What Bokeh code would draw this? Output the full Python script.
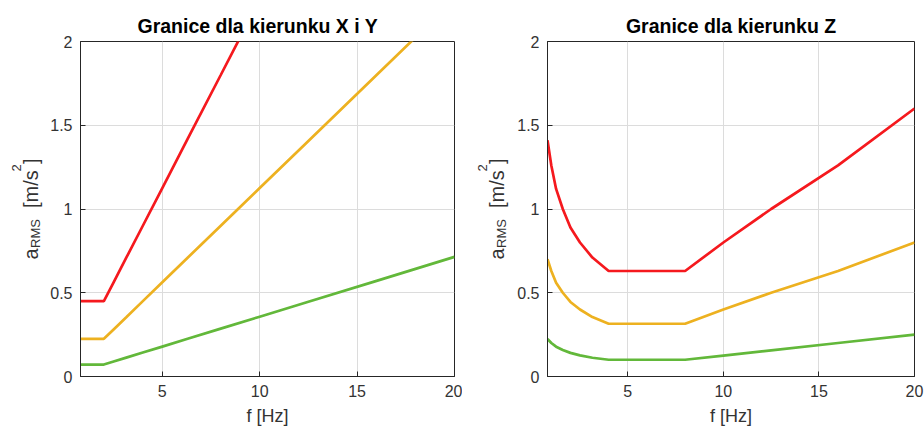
import math
from bokeh.plotting import figure
from bokeh.layouts import row
from bokeh.models import Range1d, FixedTicker
from bokeh.core.properties import value
from bokeh.embed import file_html
from bokeh.resources import INLINE

# 1/3-octave centre frequencies [Hz]
freq = [0.8, 1.0, 1.25, 1.6, 2.0, 2.5, 3.15, 4.0, 5.0, 6.3, 8.0, 10.0, 12.5, 16.0, 20.0]

# X and Y direction limits [m/s^2]
xy_green = [0.0714, 0.0714, 0.0714, 0.0714, 0.0714, 0.0893, 0.1125, 0.1429, 0.1786, 0.225, 0.2857, 0.357, 0.446, 0.571, 0.714]
xy_orange = [0.225, 0.225, 0.225, 0.225, 0.225, 0.281, 0.354, 0.45, 0.5625, 0.709, 0.90, 1.125, 1.406, 1.80, 2.25]
xy_red = [0.45, 0.45, 0.45, 0.45, 0.45, 0.5625, 0.709, 0.90, 1.125, 1.418, 1.80, 2.25, 2.81, 3.60, 4.50]

# Z direction limits [m/s^2]
z_green = [0.224, 0.20, 0.178, 0.158, 0.141, 0.126, 0.112, 0.10, 0.10, 0.10, 0.10, 0.125, 0.156, 0.20, 0.25]
z_orange = [0.70, 0.63, 0.56, 0.50, 0.445, 0.40, 0.355, 0.315, 0.315, 0.315, 0.315, 0.40, 0.50, 0.63, 0.80]
z_red = [1.41, 1.26, 1.12, 1.00, 0.89, 0.80, 0.71, 0.63, 0.63, 0.63, 0.63, 0.80, 1.00, 1.26, 1.60]

x_ticks = [5, 10, 15, 20]
y_ticks = [0, 0.5, 1, 1.5, 2]
y_tick_labels = {0: "0", 0.5: "0.5", 1: "1", 1.5: "1.5", 2: "2"}

titles = ["Granice dla kierunku X i Y", "Granice dla kierunku Z"]
x_label = "f [Hz]"
y_label_parts = ["a", "RMS", "[m/s", "2", "]"]

RED = "#f5191e"
ORANGE = "#edb120"
GREEN = "#62b83a"
TXT = "#262626"
FONT = "Liberation Sans"


def make_plot(title, series, width, left_border, right_border, title_align, title_offset):
    p = figure(width=width, height=429, output_backend="svg", toolbar_location=None,
               x_range=Range1d(0.8, 20), y_range=Range1d(0, 2),
               min_border_left=left_border, min_border_right=right_border,
               min_border_top=41, min_border_bottom=53)
    p.title.text = title
    p.title.align = title_align
    p.title.offset = title_offset
    p.title.text_font = FONT
    p.title.text_font_size = "19.5px"
    p.title.text_font_style = "bold"
    p.title.text_color = "#000000"
    p.title.standoff = 10

    for ys, c in series:
        p.line(freq, ys, line_color=c, line_width=2.7)

    for ax in (p.xaxis[0], p.yaxis[0]):
        ax.major_tick_in = 5
        ax.major_tick_out = 0
        ax.minor_tick_in = 0
        ax.minor_tick_out = 0
        ax.axis_line_color = TXT
        ax.major_tick_line_color = TXT
        ax.major_label_text_font = FONT
        ax.major_label_text_font_size = "16px"
        ax.major_label_text_color = "#333333"
        ax.major_label_standoff = 8
    p.xaxis.ticker = FixedTicker(ticks=x_ticks)
    p.yaxis.ticker = FixedTicker(ticks=y_ticks)
    p.yaxis.major_label_overrides = y_tick_labels
    p.xaxis.axis_label = x_label
    p.xaxis.axis_label_text_font = FONT
    p.xaxis.axis_label_text_font_size = "18px"
    p.xaxis.axis_label_text_font_style = "normal"
    p.xaxis.axis_label_text_color = "#333333"
    p.xaxis.axis_label_standoff = 6

    p.xgrid.ticker = FixedTicker(ticks=x_ticks)
    p.ygrid.ticker = FixedTicker(ticks=y_ticks)
    p.grid.grid_line_color = "#dcdcdc"
    p.outline_line_color = TXT
    p.background_fill_color = "white"
    p.border_fill_color = "white"
    return p


def make_ylabel(width, base_x):
    # narrow panel (frame aligned with the neighbouring plot: pixels 41..376)
    # y data = 429 - pixel row, so the composite label a_RMS [m/s^2] can be placed in pixels
    f = figure(width=width, height=429, output_backend="svg", toolbar_location=None,
               x_range=Range1d(0, width), y_range=Range1d(53, 388),
               x_axis_location=None, y_axis_location=None,
               min_border_left=0, min_border_right=0,
               min_border_top=41, min_border_bottom=53)
    f.grid.visible = False
    f.outline_line_color = None
    f.background_fill_color = "white"
    f.border_fill_color = "white"
    # (font size, baseline x shift, start row in pixels)
    layout = [(20, 0, 259.0), (13, 5, 247.5), (20, 0, 207.5), (13, -14, 171.0), (20, 0, 163.5)]
    for txt, (fs, dx, row_px) in zip(y_label_parts, layout):
        f.text(x=[base_x + dx], y=[429 - row_px], text=[txt], angle=math.pi / 2,
               text_align="left", text_baseline="alphabetic",
               text_font=value(FONT), text_font_size=f"{fs}px", text_color="#333333")
    return f


lab1 = make_ylabel(45, 30)
p1 = make_plot(titles[0], [(xy_red, RED), (xy_orange, ORANGE), (xy_green, GREEN)], 417, 35, 8, "left", 57)
lab2 = make_ylabel(52, 34)
p2 = make_plot(titles[1], [(z_red, RED), (z_orange, ORANGE), (z_green, GREEN)], 410, 32, 10, "center", 0)

layout = row(lab1, p1, lab2, p2)
open("out.html", "w").write(file_html(layout, INLINE))
